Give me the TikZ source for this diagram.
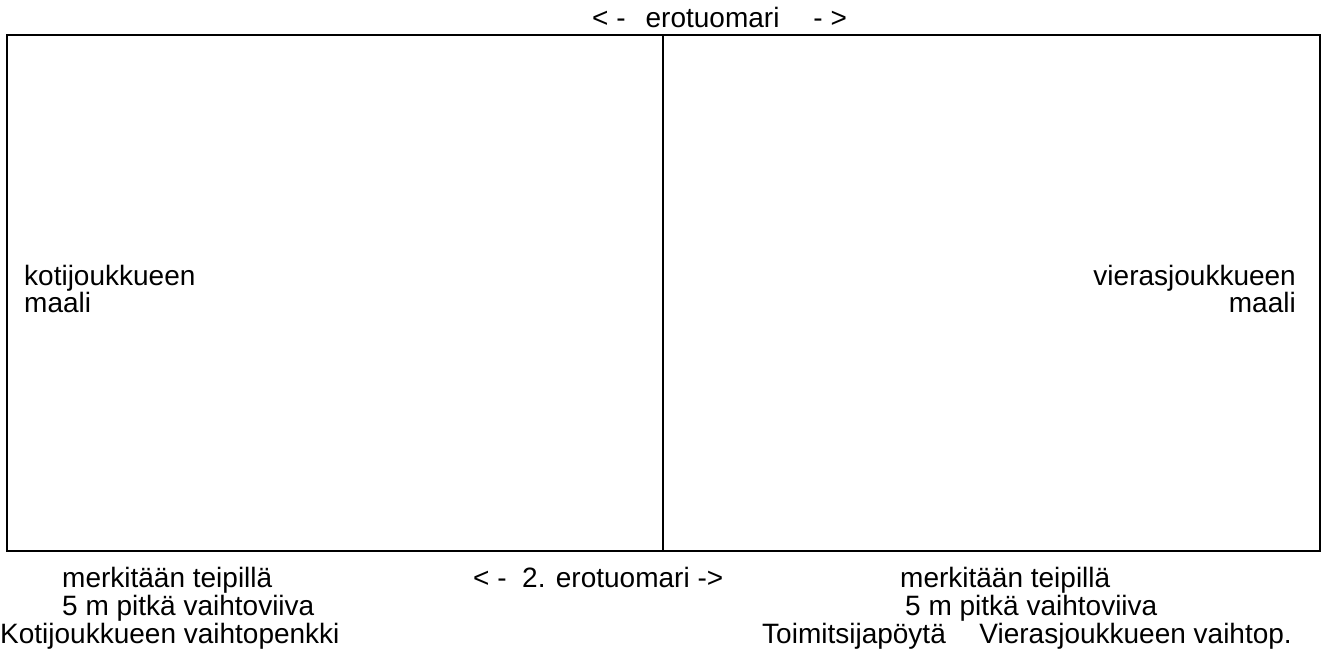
\documentclass[tikz,border=0pt]{standalone}
\usepackage{fontspec}
\setmainfont{Liberation Sans}
\usetikzlibrary{positioning}

\tikzset{lbl/.style={inner sep=0pt, font=\fontsize{28}{30}\selectfont}}

\begin{document}
\begin{tikzpicture}[x=1pt,y=-1pt]
		\useasboundingbox (0,0) rectangle (1324,662);
		\draw[line width=2pt] (7,35) rectangle (1320,551);
		\draw[line width=2pt] (663,35) -- (663,551);

		\node[lbl, anchor=base west] (ref) at (592,27) {< -\hspace{20pt}erotuomari\hspace{34pt}- >};
		\node[lbl, anchor=base west] (kotimaali) at (24,285) {kotijoukkueen};
		\node[lbl, anchor=base west] (kotimaali2) at (24,312) {maali};
		\node[lbl, anchor=base east] (vierasmaali) at (1296,285) {vierasjoukkueen};
		\node[lbl, anchor=base east] (vierasmaali2) at (1296,312) {maali};

		\node[lbl, anchor=base west] (teippi1) at (62,587) {merkitään teipillä};
		\node[lbl, anchor=base west] (ref2) at (473,587) {< -\ \ 2. erotuomari ->};
		\node[lbl, anchor=base west] (teippi2) at (900,587) {merkitään teipillä};
		\node[lbl, anchor=base west] (viiva1) at (62,615) {5 m pitkä vaihtoviiva};
		\node[lbl, anchor=base west] (viiva2) at (905,615) {5 m pitkä vaihtoviiva};
		\node[lbl, anchor=base west] (kotipenkki) at (0,643) {Kotijoukkueen vaihtopenkki};
		\node[lbl, anchor=base west] (poyta) at (762,643) {Toimitsijapöytä};
		\node[lbl, anchor=base east] (vieraspenkki) at (1292,643) {Vierasjoukkueen vaihtop.};
\end{tikzpicture}
\end{document}
